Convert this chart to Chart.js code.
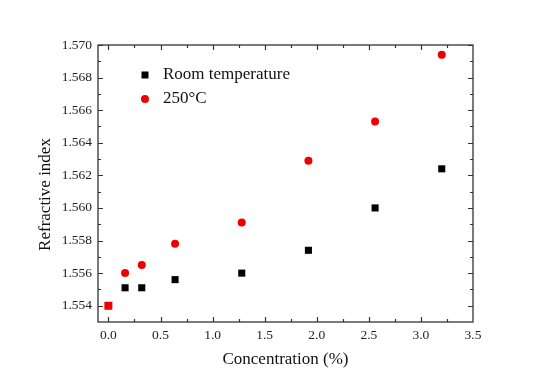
<!DOCTYPE html>
<html>
<head>
<meta charset="utf-8">
<script src="https://cdn.jsdelivr.net/npm/chart.js@4/dist/chart.umd.min.js"></script>
<style>
html,body{margin:0;padding:0;background:#fff;}
#wrap{width:550px;height:386px;}
</style>
</head>
<body>
<div id="wrap"><canvas id="c" width="550" height="386"></canvas></div>
<script>
const concentration = [0, 0.16, 0.32, 0.64, 1.28, 1.92, 2.56, 3.2];
const roomTemperature = [1.5540, 1.5551, 1.5551, 1.5556, 1.5560, 1.5574, 1.5600, 1.5624];
const hot250 = [1.5540, 1.5560, 1.5565, 1.5578, 1.5591, 1.5629, 1.5653, 1.5694];
const seriesLabels = ['Room temperature', '250°C'];
const xTitle = 'Concentration (%)';
const yTitle = 'Refractive index';

const FONT = '"Liberation Serif", "Times New Roman", serif';

const toPts = (xs, ys) => xs.map((x, i) => ({x: x, y: ys[i]}));

const frameTicks = {
  id: 'frameTicks',
  afterDraw(chart) {
    const {ctx, chartArea: a, scales} = chart;
    const xs = scales.x, ys = scales.y;
    ctx.save();
    ctx.strokeStyle = '#333';
    ctx.lineWidth = 1.3;
    ctx.strokeRect(a.left, a.top, a.right - a.left, a.bottom - a.top);
    ctx.lineWidth = 1.2;
    const major = 5, minor = 3;
    const xt = xs.ticks.map(t => t.value);
    const xvals = [];
    xt.forEach((v, i) => { xvals.push([v, major]); if (i < xt.length - 1) xvals.push([(v + xt[i+1]) / 2, minor]); });
    xvals.forEach(([v, len]) => {
      const p = Math.round(xs.getPixelForValue(v)) + 0.5;
      if (p < a.left || p > a.right) return;
      ctx.beginPath();
      ctx.moveTo(p, a.bottom); ctx.lineTo(p, a.bottom - len);
      ctx.moveTo(p, a.top); ctx.lineTo(p, a.top + len);
      ctx.stroke();
    });
    const yt = ys.ticks.map(t => t.value);
    const yvals = [];
    yt.forEach((v, i) => { yvals.push([v, major]); if (i < yt.length - 1) yvals.push([(v + yt[i+1]) / 2, minor]); });
    if (yt.length > 1) yvals.push([yt[0] - (yt[1] - yt[0]) / 2, minor]);
    yvals.forEach(([v, len]) => {
      const p = Math.round(ys.getPixelForValue(v)) + 0.5;
      if (p < a.top || p > a.bottom) return;
      ctx.beginPath();
      ctx.moveTo(a.left, p); ctx.lineTo(a.left + len, p);
      ctx.moveTo(a.right, p); ctx.lineTo(a.right - len, p);
      ctx.stroke();
    });
    // y axis title
    ctx.save();
    ctx.translate(45.5, 194.5);
    ctx.rotate(-Math.PI / 2);
    ctx.font = '17px ' + FONT;
    ctx.fillStyle = '#111';
    ctx.textAlign = 'center';
    ctx.textBaseline = 'middle';
    ctx.fillText(yTitle, 0, 0);
    ctx.restore();
    ctx.restore();
  }
};

const innerLegend = {
  id: 'innerLegend',
  afterDatasetsDraw(chart) {
    const {ctx, chartArea: a} = chart;
    ctx.save();
    ctx.font = '17px ' + FONT;
    ctx.textBaseline = 'middle';
    chart.data.datasets.forEach((ds, i) => {
      const cx = a.left + 47, cy = a.top + 30 + i * 24;
      ctx.fillStyle = ds.legendColor;
      if (ds.legendStyle === 'rect') {
        ctx.fillRect(cx - 3.5, cy - 3.5, 7, 7);
      } else {
        ctx.beginPath(); ctx.arc(cx, cy, 4, 0, Math.PI * 2); ctx.fill();
      }
      ctx.fillStyle = '#111';
      ctx.fillText(ds.label, cx + 18, cy);
    });
    ctx.restore();
  }
};

new Chart(document.getElementById('c'), {
  type: 'scatter',
  data: {
    datasets: [
      {
        label: seriesLabels[0],
        data: toPts(concentration, roomTemperature),
        pointStyle: 'rect',
        pointRadius: 5,
        pointBackgroundColor: '#000',
        pointBorderColor: '#000',
        pointBorderWidth: 0,
        legendStyle: 'rect', legendColor: '#000',
        order: 2
      },
      {
        label: seriesLabels[1],
        data: toPts(concentration, hot250),
        pointStyle: concentration.map((c, i) => i === 0 ? 'rect' : 'circle'),
        pointRadius: concentration.map((c, i) => i === 0 ? 5.6 : 4),
        pointBackgroundColor: '#ee0000',
        pointBorderColor: '#ee0000',
        pointBorderWidth: 0,
        legendStyle: 'circle', legendColor: '#ee0000',
        order: 1
      }
    ]
  },
  options: {
    responsive: false,
    animation: false,
    layout: {padding: {top: 45, right: 77, left: 0, bottom: 0}},
    plugins: {legend: {display: false}, tooltip: {enabled: false}},
    scales: {
      x: {
        type: 'linear',
        min: -0.1, max: 3.5,
        grid: {display: false, drawTicks: false},
        border: {display: false},
        ticks: {
          stepSize: 0.5, includeBounds: false,
          font: {family: FONT, size: 13.5}, color: '#222', padding: 5,
          callback: v => Number(v).toFixed(1)
        },
        title: {display: true, text: xTitle, font: {family: FONT, size: 17}, color: '#111', padding: {top: 0, bottom: 16}},
        afterFit(s) { s.height = 64; }
      },
      y: {
        type: 'linear',
        min: 1.553, max: 1.570,
        grid: {display: false, drawTicks: false},
        border: {display: false},
        ticks: {
          stepSize: 0.002, includeBounds: false,
          font: {family: FONT, size: 13.5}, color: '#222', padding: 6,
          callback: v => Number(v).toFixed(3)
        },
        title: {display: false},
        afterFit(s) { s.width = 98; }
      }
    }
  },
  plugins: [frameTicks, innerLegend]
});
</script>
</body>
</html>
